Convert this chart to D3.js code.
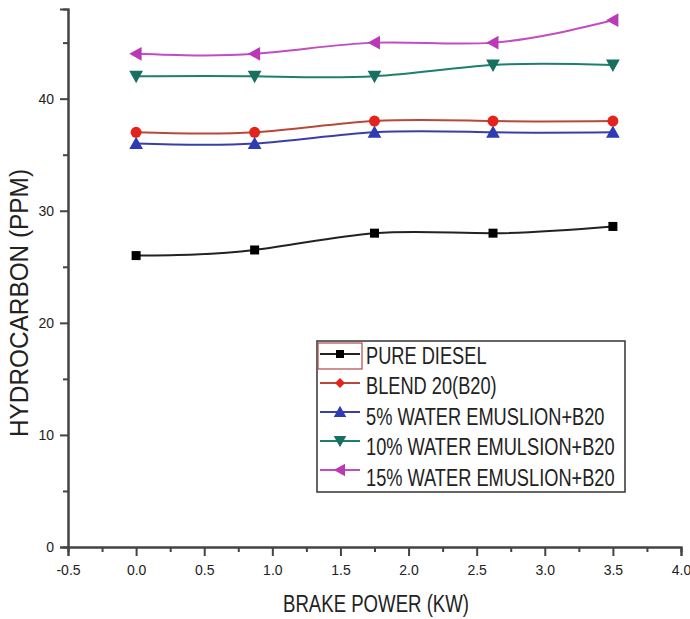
<!DOCTYPE html>
<html>
<head>
<meta charset="utf-8">
<script src="https://cdn.jsdelivr.net/npm/d3@7"></script>
<style>
  body { margin: 0; background: #fff; }
  svg { display: block; }
  text { font-family: "Liberation Sans Narrow", "Arial Narrow", "Liberation Sans", Arial, sans-serif; fill: #222; }
</style>
</head>
<body>
<svg id="chart" width="690" height="619"></svg>
<script>
// brake power (kW) readings
var power = [0, 0.87, 1.75, 2.62, 3.5];

// hydrocarbon (ppm) for each fuel
var pureDiesel = [26, 26.5, 28, 28, 28.6];
var blend20 = [37, 37, 38, 38, 38];
var water5 = [36, 36, 37, 37, 37];
var water10 = [42, 42, 42, 43, 43];
var water15 = [44, 44, 45, 45, 47];

var seriesNames = ["PURE DIESEL", "BLEND 20(B20)", "5% WATER EMUSLION+B20",
    "10% WATER EMULSION+B20", "15% WATER EMUSLION+B20"];

var xTicks = [-0.5, 0, 0.5, 1, 1.5, 2, 2.5, 3, 3.5, 4];
var yTicks = [0, 10, 20, 30, 40];

var svg = d3.select('#chart');

var x = d3.scaleLinear().domain([-0.5, 4]).range([68, 681]);
var y = d3.scaleLinear().domain([0, 48]).range([547, 9]);

var series = [
    { name: seriesNames[0], values: pureDiesel, line: "#222", fill: "#000", shape: "square" },
    { name: seriesNames[1], values: blend20, line: "#b8483c", fill: "#e3241b", shape: "circle" },
    { name: seriesNames[2], values: water5, line: "#3a3fa8", fill: "#2f3bb0", shape: "up" },
    { name: seriesNames[3], values: water10, line: "#1f7f6e", fill: "#17705f", shape: "down" },
    { name: seriesNames[4], values: water15, line: "#c24cc4", fill: "#b83ab8", shape: "left" }
];

// marker path centred on 0,0
function marker(shape, s) {
    if (shape == "square") return "M" + (-s) + "," + (-s) + "h" + 2 * s + "v" + 2 * s + "h" + (-2 * s) + "Z";
    if (shape == "circle") return d3.symbol().type(d3.symbolCircle).size(Math.PI * s * s)();
    if (shape == "diamond") return "M0," + (-s) + "L" + s + ",0L0," + s + "L" + (-s) + ",0Z";
    var h = s * 1.25;
    if (shape == "up") return "M0," + (-h) + "L" + h + "," + h * 0.8 + "L" + (-h) + "," + h * 0.8 + "Z";
    if (shape == "down") return "M0," + h + "L" + h + "," + (-h * 0.8) + "L" + (-h) + "," + (-h * 0.8) + "Z";
    if (shape == "left") return "M" + (-h) + ",0L" + h * 0.8 + "," + (-h) + "L" + h * 0.8 + "," + h + "Z";
}

// axes
var xAxis = d3.axisBottom(x)
    .tickValues(xTicks)
    .tickSize(9)
    .tickPadding(9)
    .tickFormat(function(d) { return d.toFixed(1); });

svg.append("g")
    .attr("transform", "translate(0," + y(0) + ")")
    .call(xAxis);

var xMinor = d3.axisBottom(x)
    .tickValues(d3.range(-0.25, 4, 0.5))
    .tickSize(5)
    .tickFormat("");
svg.append("g")
    .attr("transform", "translate(0," + y(0) + ")")
    .call(xMinor);

var yAxis = d3.axisLeft(y)
    .tickValues(yTicks)
    .tickSize(8)
    .tickPadding(6);

svg.append("g")
    .attr("transform", "translate(" + x(-0.5) + ",0)")
    .call(yAxis);

var yMinor = d3.axisLeft(y)
    .tickValues([5, 15, 25, 35, 45])
    .tickSize(5)
    .tickFormat("");
svg.append("g")
    .attr("transform", "translate(" + x(-0.5) + ",0)")
    .call(yMinor);

svg.selectAll(".domain").attr("stroke", "#444").attr("stroke-width", 2);
svg.selectAll(".tick line").attr("stroke", "#444").attr("stroke-width", 2);
svg.selectAll(".tick text")
    .style("font-family", "'Liberation Sans', Arial, sans-serif")
    .style("font-size", "14px")
    .attr("fill", "#333");

// axis titles
svg.append("text")
    .attr("x", 376)
    .attr("y", 612)
    .attr("text-anchor", "middle")
    .attr("textLength", 186)
    .attr("lengthAdjust", "spacingAndGlyphs")
    .style("font-size", "23px")
    .text("BRAKE POWER (KW)");

svg.append("text")
    .attr("transform", "translate(28,303) rotate(-90)")
    .attr("text-anchor", "middle")
    .attr("textLength", 268)
    .attr("lengthAdjust", "spacingAndGlyphs")
    .style("font-size", "26px")
    .text("HYDROCARBON (PPM)");

// lines
var line = d3.line()
    .x(function(d, i) { return x(power[i]); })
    .y(function(d) { return y(d); })
    .curve(d3.curveNatural);

series.forEach(function(s) {
    svg.append("path")
        .attr("d", line(s.values))
        .attr("fill", "none")
        .attr("stroke", s.line)
        .attr("stroke-width", 2);

    svg.selectAll(null)
        .data(s.values)
        .enter()
        .append("path")
        .attr("transform", function(d, i) { return "translate(" + x(power[i]) + "," + y(d) + ")"; })
        .attr("d", marker(s.shape, s.shape == "square" ? 4.5 : 5.5))
        .attr("fill", s.fill);
});

// legend
var legend = svg.append("g");
legend.append("rect")
    .attr("x", 317).attr("y", 341)
    .attr("width", 308).attr("height", 151)
    .attr("fill", "#fff")
    .attr("stroke", "#333")
    .attr("stroke-width", 1.5);

legend.append("rect")
    .attr("x", 318).attr("y", 343)
    .attr("width", 44).attr("height", 26)
    .attr("fill", "none")
    .attr("stroke", "#b04848")
    .attr("stroke-width", 1.2);

series.forEach(function(s, i) {
    var cy = 355 + i * 30.5;
    var my = cy - 1 - i * 1.5;
    legend.append("line")
        .attr("x1", 320).attr("x2", 360)
        .attr("y1", my).attr("y2", my)
        .attr("stroke", s.line)
        .attr("stroke-width", 2);
    legend.append("path")
        .attr("transform", "translate(340," + my + ")")
        .attr("d", marker(s.shape == "circle" ? "diamond" : s.shape, s.shape == "square" ? 4 : 5))
        .attr("fill", s.fill);
    // squeeze the label sideways, like the narrow font of the original
    legend.append("text")
        .attr("transform", "translate(366," + (cy + 8.5) + ") scale(0.76,1)")
        .style("font-size", "24px")
        .text(s.name);
});
</script>
</body>
</html>
